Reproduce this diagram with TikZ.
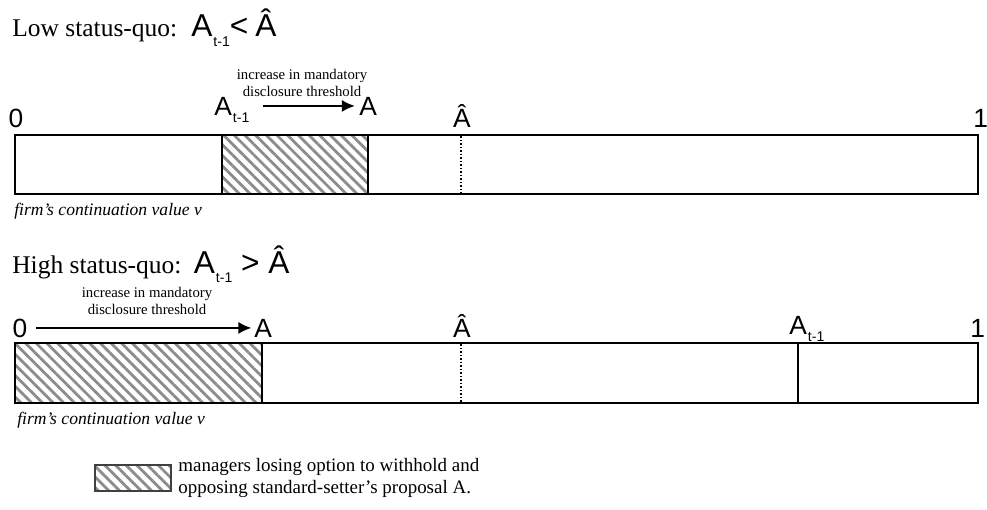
\documentclass[tikz,border=0pt]{standalone}
\usepackage{fontspec}
\setmainfont{Liberation Serif}
\newfontfamily\arialfont{Liberation Sans}
\usetikzlibrary{arrows.meta, patterns.meta}

\newcommand{\subt}[1]{\kern0.6pt\raisebox{-0.55ex}{\fontsize{8}{8}\selectfont #1}}

\begin{document}
\begin{tikzpicture}[x=0.02cm, y=-0.02cm,
    bar/.style={draw, line width=1.5pt},
    hatch/.style={pattern={Lines[angle=-45, distance=4.3pt, line width=1.6pt]}, pattern color=gray!90},
    thr/.style={-{Latex[length=7.5pt, width=7pt]}, line width=1.4pt},
    lbl/.style={inner sep=0pt, font=\arialfont\fontsize{15}{15}\selectfont},
    note/.style={inner sep=0pt, align=center, font=\fontsize{8.4}{9.2}\selectfont},
    valcap/.style={inner sep=0pt, anchor=base west, font=\itshape\fontsize{10}{12}\selectfont}]
    \useasboundingbox (0,0) rectangle (987,510);

    % Low status-quo
    \node[inner sep=0pt, anchor=base west] (lowtitle) at (12,37)
        {\fontsize{14.5}{16}\selectfont Low status-quo:\hspace{8pt}{\arialfont\fontsize{18}{18}\selectfont A\subt{t-1}<\hspace{4pt}Â}};

    \fill[hatch] (222,135) rectangle (368,194);
    \draw[bar] (15,135) rectangle (978,194);
    \draw[bar] (222,135) -- (222,194);
    \draw[bar] (368,135) -- (368,194);
    \draw[line width=0.7pt, dash pattern=on 1pt off 1pt] (461,136) -- (461,193);

    \node[lbl, anchor=base] (lowzero) at (16,128) {0};
    \node[lbl, anchor=base west] (lowone) at (973,128) {1};
    \node[lbl, anchor=base west] (lowold) at (214,115) {A\subt{t-1}};
    \node[lbl, anchor=base west] (lownew) at (359,115) {A};
    \node[lbl, anchor=base] (lowhat) at (462,128) {Â};
    \node[note, anchor=base] (lownote) at (302,96) {increase in mandatory\\disclosure threshold};
    \draw[thr] ([xshift=0.26cm]lowold.east |- lownew) -- ([xshift=-0.08cm]lownew.west);

    \node[valcap] (lowcap) at (14,215) {firm’s continuation value v};

    % High status-quo
    \node[inner sep=0pt, anchor=base west] (hightitle) at (12,273)
        {\fontsize{14.5}{16}\selectfont High status-quo:\hspace{7pt}{\arialfont\fontsize{18}{18}\selectfont A\subt{t-1} > Â}};

    \fill[hatch] (15,343) rectangle (262,403);
    \draw[bar] (15,343) rectangle (978,403);
    \draw[bar] (262,343) -- (262,403);
    \draw[bar] (798,343) -- (798,403);
    \draw[line width=0.7pt, dash pattern=on 1pt off 1pt] (461,344) -- (461,402);

    \node[lbl, anchor=base] (highzero) at (20,337) {0};
    \node[lbl, anchor=base west] (highnew) at (254,337) {A};
    \node[lbl, anchor=base] (highhat) at (462,337) {Â};
    \node[lbl, anchor=base west] (highold) at (789,334) {A\subt{t-1}};
    \node[lbl, anchor=base west] (highone) at (970,337) {1};
    \node[note, anchor=base] (highnote) at (147,314) {increase in mandatory\\disclosure threshold};
    \draw[thr] ([xshift=0.16cm]highzero.east |- highnew) -- ([xshift=-0.05cm]highnew.west);

    \node[valcap] (highcap) at (17,424) {firm’s continuation value v};

    % Legend
    \fill[hatch] (95,465) rectangle (171,491);
    \draw[line width=0.9pt, black!75] (95,465) rectangle (171,491);
    \node[inner sep=0pt, anchor=base west, align=left, font=\fontsize{10.8}{12}\selectfont] (legend) at (178,493)
        {managers losing option to withhold and\\opposing standard-setter’s proposal A.};
\end{tikzpicture}
\end{document}
